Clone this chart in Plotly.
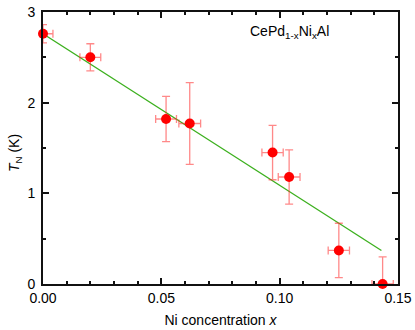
import plotly.graph_objects as go

# Ni concentration and Neel temperature with error bars
ni_x = [0.0, 0.020, 0.052, 0.062, 0.097, 0.104, 0.125, 0.1435]
tn_k = [2.76, 2.50, 1.82, 1.77, 1.45, 1.18, 0.37, 0.0]
tn_err_plus = [0.10, 0.15, 0.25, 0.45, 0.30, 0.30, 0.30, 0.30]
tn_err_minus = [0.10, 0.15, 0.25, 0.45, 0.30, 0.30, 0.30, 0.0]
x_err_plus = [0.0042, 0.0044, 0.0044, 0.0046, 0.0045, 0.0046, 0.0045, 0.0045]
x_err_minus = [0.0, 0.0044, 0.0044, 0.0046, 0.0045, 0.0046, 0.0045, 0.0045]

# linear fit
fit_x = [0.0, 0.143]
fit_y = [2.76, 0.37]

font_family = "Liberation Sans, Arial, sans-serif"
err_color = "rgba(255,40,40,0.55)"

fig = go.Figure()
fig.add_trace(
    go.Scatter(
        x=fit_x,
        y=fit_y,
        mode="lines",
        line=dict(color="#3cb01e", width=1.3),
        showlegend=False,
    )
)
fig.add_trace(
    go.Scatter(
        x=ni_x,
        y=tn_k,
        mode="markers",
        marker=dict(color="#ff0000", size=10),
        error_y=dict(
            type="data",
            symmetric=False,
            array=tn_err_plus,
            arrayminus=tn_err_minus,
            color=err_color,
            thickness=1.3,
            width=4,
        ),
        error_x=dict(
            type="data",
            symmetric=False,
            array=x_err_plus,
            arrayminus=x_err_minus,
            color=err_color,
            thickness=1.3,
            width=4,
        ),
        cliponaxis=False,
        showlegend=False,
    )
)

axis_common = dict(
    showline=True,
    linecolor="#111111",
    linewidth=2,
    mirror="allticks",
    ticks="inside",
    ticklen=6,
    tickwidth=1.5,
    tickcolor="#111111",
    showgrid=False,
    zeroline=False,
    automargin=False,
    tickfont=dict(family=font_family, size=14, color="black"),
)

fig.update_xaxes(
    range=[0, 0.15],
    dtick=0.05,
    tickformat=".2f",
    minor=dict(dtick=0.01, ticks="inside", ticklen=3, tickwidth=1.5, tickcolor="#111111"),
    title=dict(
        text="Ni concentration <i>x</i>",
        font=dict(family=font_family, size=14, color="black"),
        standoff=10,
    ),
    **axis_common,
)
fig.update_yaxes(
    range=[0, 3],
    dtick=1,
    minor=dict(dtick=0.5, ticks="inside", ticklen=3, tickwidth=1.5, tickcolor="#111111"),
    ticklabelstandoff=3,
    **axis_common,
)

fig.update_layout(
    width=415,
    height=330,
    margin=dict(l=43, r=17, t=12, b=46),
    plot_bgcolor="white",
    paper_bgcolor="white",
    annotations=[
        dict(
            text="CePd<sub>1-x</sub>Ni<sub>x</sub>Al",
            x=0.104,
            y=2.775,
            xref="x",
            yref="y",
            showarrow=False,
            font=dict(family=font_family, size=14, color="black"),
        ),
        dict(
            text="<i>T</i><sub>N</sub> (K)",
            x=-0.108,
            y=0.48,
            xref="paper",
            yref="paper",
            textangle=-90,
            showarrow=False,
            font=dict(family=font_family, size=14, color="black"),
        ),
    ],
)

fig.write_html(
    "out.html",
    config={"displayModeBar": False},
    post_script="document.body.style.margin='0px';",
)
